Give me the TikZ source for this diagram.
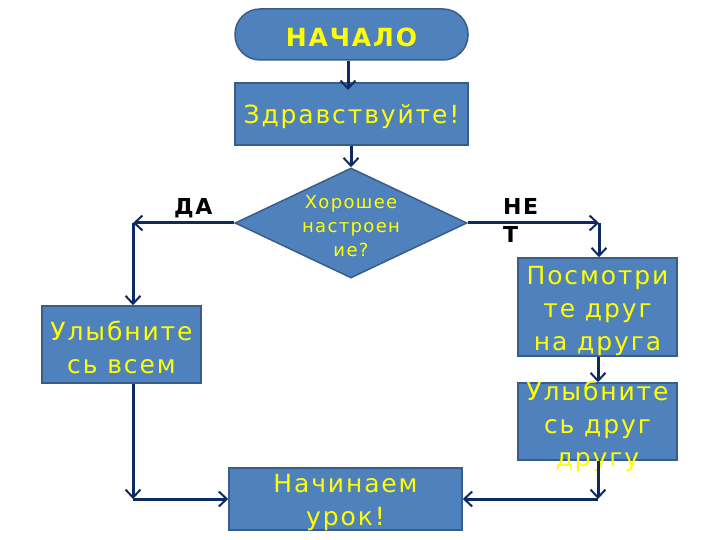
\documentclass[tikz,border=0pt]{standalone}
\usepackage{fontspec}
\setmainfont{DejaVu Sans}[LetterSpace=7.5]
\usetikzlibrary{arrows.meta,shapes.geometric}
\definecolor{boxfill}{HTML}{4F81BD}
\definecolor{boxline}{HTML}{385D8A}
\definecolor{arrowc}{HTML}{0E2A63}
\definecolor{txty}{HTML}{FFFF00}
\tikzset{
  box/.style={draw=boxline, fill=boxfill, line width=1.5pt, inner sep=0pt},
  txt/.style={text=txty, align=center, font=\fontsize{25}{33}\selectfont, inner sep=0pt},
  lbl/.style={text=black, font=\fontsize{22}{28}\selectfont\bfseries, inner sep=0pt, align=left},
  conn/.style={draw=arrowc, line width=3pt, -{Straight Barb[length=8pt,width=15pt,line width=2pt]}}
}
\begin{document}
\begin{tikzpicture}[x=1pt,y=-1pt]
\useasboundingbox (0,0) rectangle (720,540);
% start
\node[box, rounded corners=25pt, minimum width=233pt, minimum height=51pt] (start) at (351.5,34.5) {};
\node[txt, font=\fontsize{25}{30}\selectfont\bfseries] (starttxt) at (351.5,37.5) {НАЧАЛО};
% hello
\node[box, minimum width=233pt, minimum height=62pt] (hello) at (351.5,114) {};
\node[txt] (hellotxt) at (351.5,117) {Здравствуйте!};
% decision
\node[box, diamond, minimum width=232pt, minimum height=110pt, aspect=2.1] (dec) at (351,223) {};
\node[txt, font=\fontsize{18}{24}\selectfont] (dectxt) at (351,226) {Хорошее\\настроен\\ие?};
% left
\node[box, minimum width=159pt, minimum height=77pt] (smile) at (121.5,344.5) {};
\node[txt] (smiletxt) at (121.5,347) {Улыбните\\сь всем};
% right
\node[box, minimum width=159pt, minimum height=98pt] (look) at (597.5,307) {};
\node[txt] (looktxt) at (597.5,311) {Посмотри\\те друг\\на друга};
\node[box, minimum width=159pt, minimum height=77pt] (smile2) at (597.5,421.5) {};
\node[txt] (smile2txt) at (597.5,426.5) {Улыбните\\сь друг\\другу};
% end
\node[box, minimum width=233pt, minimum height=62pt] (fin) at (345.5,499) {};
\node[txt] (fintxt) at (345.5,502.5) {Начинаем\\урок!};
% labels
\node[lbl, anchor=west] (yes) at (174,208) {ДА};
\node[lbl, anchor=north west] (no) at (503,198) {НЕ\\Т};
% connector corners
\coordinate (cl) at (133,223);
\coordinate (cr) at (599,223);
\coordinate (bl) at (133,499);
\coordinate (br) at (598,499);
% connectors
\draw[conn] (start.south -| 348,0) -- (348,90);
\draw[conn] (hello.south -| 351,0) -- (dec.north);
\draw[conn] (dec.west) -- (cl);
\draw[conn] (cl) -- (smile.north -| cl);
\draw[conn] (dec.east) -- (cr);
\draw[conn] (cr) -- (look.north -| cr);
\draw[conn] (look.south -| 598,0) -- (smile2.north -| 598,0);
\draw[conn] (smile.south -| bl) -- (bl);
\draw[conn] (bl) -- (fin.west);
\draw[conn] (smile2.south -| br) -- (br);
\draw[conn] (br) -- (fin.east);
\end{tikzpicture}
\end{document}
